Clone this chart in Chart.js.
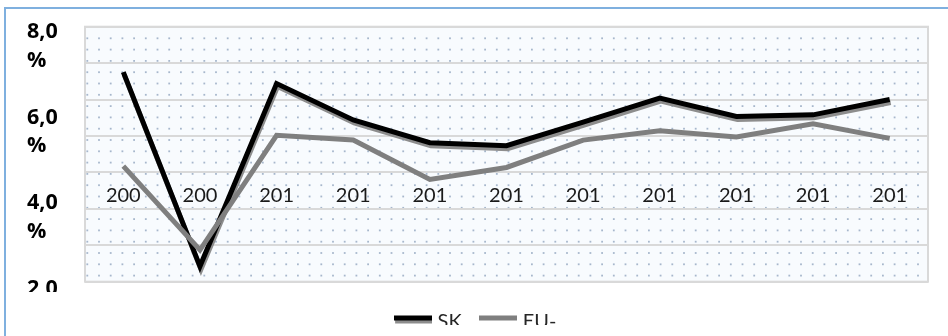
<!DOCTYPE html>
<html>
<head>
<meta charset="utf-8">
<script src="https://cdn.jsdelivr.net/npm/chart.js@4.4.1/dist/chart.umd.min.js"></script>
<style>
  html, body { margin: 0; padding: 0; background: #fff; overflow: hidden; }
  #wrap { position: relative; width: 948px; height: 336px; overflow: hidden; }
  #frame { position: absolute; left: 4px; top: 7px; width: 2000px; height: 1000px;
           border-left: 2px solid #7fb0df; border-top: 2px solid #7fb0df; }
  canvas { position: absolute; left: 0; top: 0; }
</style>
</head>
<body>
<div id="wrap">
  <div id="frame"></div>
  <canvas id="chart" width="948" height="336"></canvas>
</div>
<script>
// Years on the category axis
const years = ['2008', '2009', '2010', '2011', '2012', '2013', '2014', '2015', '2016', '2017', '2018'];
// Series (percent)
const skValues = [7.40, 2.86, 7.13, 6.28, 5.75, 5.68, 6.23, 6.79, 6.36, 6.40, 6.76];
const euValues = [5.20, 3.24, 5.92, 5.81, 4.89, 5.17, 5.81, 6.03, 5.88, 6.19, 5.85];
const seriesNames = ['SK', 'EU-'];
// Labelled ticks on the value axis
const yTickValues = [8, 6, 4, 2];

const FONT = 'Lato';

// Dotted fill for the plot area
let dotFill = null;
function getDotFill(ctx) {
  if (dotFill) return dotFill;
  const px = 11.7, py = 11.3, n = 10;
  const tile = document.createElement('canvas');
  tile.width = Math.round(px * n);
  tile.height = Math.round(py * n);
  const g = tile.getContext('2d');
  g.fillStyle = '#f8fbfe';
  g.fillRect(0, 0, tile.width, tile.height);
  g.fillStyle = '#a7b7cc';
  for (let i = 0; i < n; i++) {
    for (let j = 0; j < n; j++) {
      g.fillRect(5.4 + i * px - 0.9, 4.4 + j * py - 0.9, 1.8, 1.8);
    }
  }
  dotFill = ctx.createPattern(tile, 'repeat');
  return dotFill;
}

// Short line swatches for the legend
function legendSwatch(color, shadow) {
  const c = document.createElement('canvas');
  c.width = 38; c.height = 14;
  const g = c.getContext('2d');
  if (shadow) { g.fillStyle = '#8d8d8d'; g.fillRect(1, 3.5, 37, 5); }
  g.fillStyle = color;
  g.fillRect(0, 0.5, 38, 5);
  return c;
}
const swatches = [legendSwatch('#000000', true), legendSwatch('#7f7f7f', false)];

const plotFrame = {
  id: 'plotFrame',
  beforeDraw(chart) {
    const { ctx, chartArea: a } = chart;
    if (!a) return;
    ctx.save();
    ctx.fillStyle = getDotFill(ctx);
    ctx.fillRect(a.left, a.top, a.right - a.left, a.bottom - a.top);
    ctx.restore();
  },
  beforeDatasetsDraw(chart) {
    const { ctx, chartArea: a } = chart;
    ctx.save();
    ctx.strokeStyle = '#d9d9d9';
    ctx.lineWidth = 2;
    ctx.strokeRect(a.left, a.top, a.right - a.left, a.bottom - a.top);
    ctx.restore();
  }
};

// Drop shadow under one of the lines
const lineShadow = {
  id: 'lineShadow',
  beforeDatasetDraw(chart, args, opts) {
    if (args.index !== opts.datasetIndex) return;
    const ctx = chart.ctx;
    ctx.save();
    ctx.shadowColor = '#8d8d8d';
    ctx.shadowOffsetX = 1;
    ctx.shadowOffsetY = 3;
    ctx.shadowBlur = 0;
  },
  afterDatasetDraw(chart, args, opts) {
    if (args.index !== opts.datasetIndex) return;
    chart.ctx.restore();
  }
};

// Cut text off below a given line
function clipBelow(obj, method, limit) {
  if (!obj || obj['__clip_' + method]) return;
  const orig = obj[method];
  obj[method] = function (...args) {
    const ctx = this.ctx;
    ctx.save();
    ctx.beginPath();
    ctx.rect(0, 0, this.chart ? this.chart.width : 948, limit);
    ctx.clip();
    orig.apply(this, args);
    ctx.restore();
  };
  obj['__clip_' + method] = true;
}
const textClip = {
  id: 'textClip',
  beforeDraw(chart) {
    clipBelow(chart.scales.x, 'drawLabels', 203);
    clipBelow(chart.scales.y, 'drawLabels', 292);
    clipBelow(chart.legend, 'draw', 325);
  }
};

new Chart(document.getElementById('chart'), {
  type: 'line',
  data: {
    labels: years,
    datasets: [
      {
        label: seriesNames[0],
        data: skValues,
        borderColor: '#000000',
        backgroundColor: '#000000',
        borderWidth: 5,
        pointRadius: 0,
        tension: 0,
        order: 1,
        yAxisID: 'y'
      },
      {
        label: seriesNames[1],
        data: euValues,
        borderColor: '#7f7f7f',
        backgroundColor: '#7f7f7f',
        borderWidth: 5,
        pointRadius: 0,
        tension: 0,
        order: 0,
        yAxisID: 'y'
      }
    ]
  },
  options: {
    responsive: false,
    animation: false,
    devicePixelRatio: 1,
    layout: { padding: { left: 27, right: 20, top: 26.7, bottom: 0 } },
    scales: {
      x: {
        type: 'category',
        offset: true,
        position: { y: 4.80 },
        grid: { display: false, drawTicks: false },
        border: { display: false },
        ticks: {
          autoSkip: false,
          maxRotation: 0,
          padding: 0,
          color: '#1a1a1a',
          font: { family: FONT, size: 20, lineHeight: 1.2 },
          callback(v) {
            const t = this.getLabelForValue(v);
            return [t.slice(0, 3), t.slice(3)];
          }
        }
      },
      gap: {
        type: 'category',
        position: 'bottom',
        grid: { display: false, drawTicks: false },
        border: { display: false },
        ticks: { display: false },
        afterFit(s) { s.height = 8.3; }
      },
      y: {
        type: 'linear',
        position: 'left',
        min: 2.5,
        max: 8.46,
        grid: { display: false },
        border: { display: false },
        ticks: {
          autoSkip: false,
          crossAlign: 'far',
          padding: 0,
          color: '#000000',
          font: { family: 'Open Sans', size: 21.5, weight: 'bold', lineHeight: 1.32 },
          callback: (v) => [v.toFixed(1).replace('.', ','), '%']
        },
        afterBuildTicks(s) { s.ticks = yTickValues.map(v => ({ value: v })); },
        afterFit(s) { s.width = 58; s.paddingTop = 0; s.paddingBottom = 0; }
      },
      yg: {
        type: 'linear',
        position: 'right',
        min: 1,
        max: 8,
        grid: { color: '#d9d9d9', lineWidth: 2, drawTicks: false },
        border: { display: false },
        ticks: { display: false, stepSize: 1 },
        afterFit(s) { s.width = 0; }
      }
    },
    plugins: {
      lineShadow: { datasetIndex: 0 },
      tooltip: { enabled: false },
      legend: {
        position: 'bottom',
        maxHeight: 46,
        labels: {
          usePointStyle: true,
          pointStyleWidth: 29,
          padding: 22,
          color: '#262626',
          font: { family: FONT, size: 20 },
          sort: (a, b) => a.datasetIndex - b.datasetIndex,
          generateLabels(chart) {
            const items = Chart.defaults.plugins.legend.labels.generateLabels(chart);
            items.forEach(it => { it.pointStyle = swatches[it.datasetIndex]; });
            return items;
          }
        }
      }
    }
  },
  plugins: [plotFrame, lineShadow, textClip]
});
</script>
</body>
</html>
